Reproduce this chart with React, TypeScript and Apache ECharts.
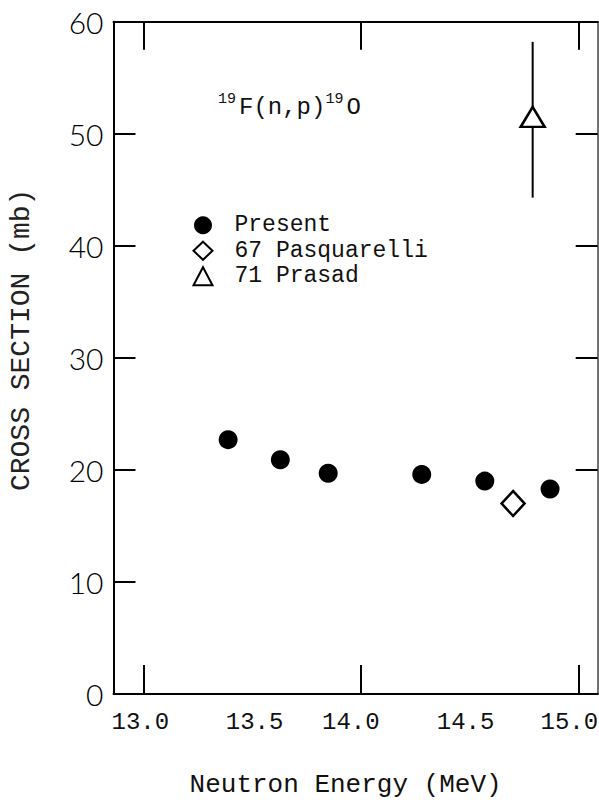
import React, { useEffect, useRef } from "react";
import * as echarts from "echarts";

// Present work
const presentEnergy = [13.39, 13.63, 13.85, 14.28, 14.57, 14.87];
const presentSection = [22.7, 20.9, 19.7, 19.6, 19.0, 18.3];
// 67 Pasquarelli
const pasqEnergy = [14.7];
const pasqSection = [17.0];
// 71 Prasad (with error bar)
const prasadEnergy = [14.79];
const prasadSection = [51.5];
const prasadLow = [44.3];
const prasadHigh = [58.2];

const xMin = 12.863;
const xMax = 15.089;
const xTickValues = [13, 14, 15];
const xLabelValues = [13, 13.5, 14, 14.5, 15];
const xLabelTexts = ["13.0", "13.5", "14.0", "14.5", "15.0"];
const rightTickValues = [20, 30, 40, 50];

const xLabelShift = [-3, 2.5, -10, -4, -9];

export default function App() {
  const ref = useRef<HTMLDivElement>(null);
  useEffect(() => {
    const chart = echarts.init(ref.current!, undefined, { renderer: "svg" });
    const rich: Record<string, any> = {};
    xLabelShift.forEach((d, i) => {
      rich["l" + i] = {
        fontFamily: "Liberation Mono",
        fontSize: 24,
        lineHeight: 28,
        color: "#111",
        padding: d < 0 ? [0, -2 * d, 0, 0] : [0, 0, 0, 2 * d],
      };
    });
    const mono = "Liberation Mono";
    chart.setOption({
      animation: false,
      backgroundColor: "#fff",
      grid: { left: 113.5, right: 1.3, top: 21.7, bottom: 111, containLabel: false, outerBoundsMode: "none" },
      legend: {
        orient: "vertical",
        left: 187.5,
        top: 208,
        itemWidth: 19,
        itemHeight: 18,
        itemGap: 1,
        data: ["Present", "67 Pasquarelli", "71 Prasad"],
        textStyle: {
          fontFamily: mono,
          fontSize: 23,
          lineHeight: 24.5,
          color: "#111",
          padding: [0, 0, 0, 17],
        },
      },
      graphic: [
        {
          type: "text",
          left: 218,
          top: 92,
          style: {
            text: "{s|19}{m|F(n,p)}{s|19}{m|O}",
            rich: {
              s: { fontFamily: mono, fontSize: 15, verticalAlign: "top", lineHeight: 18, fill: "#111", padding: [0, 3, 0, 0] },
              m: { fontFamily: mono, fontSize: 24, lineHeight: 30, verticalAlign: "middle", fill: "#111" },
            },
          },
        },
      ],
      xAxis: [
        {
          type: "value",
          position: "bottom",
          min: xMin,
          max: xMax,
          axisLine: { show: true, onZero: false, lineStyle: { color: "#000", width: 2 } },
          axisTick: { show: true, inside: true, length: 29, customValues: xTickValues, lineStyle: { color: "#000", width: 2 } },
          axisLabel: {
            show: true,
            customValues: xLabelValues,
            margin: 14,
            formatter: (v: number) => {
              const i = xLabelValues.findIndex((x) => Math.abs(x - v) < 1e-6);
              return i >= 0 ? `{l${i}|${xLabelTexts[i]}}` : "";
            },
            rich,
          },
          splitLine: { show: false },
          name: "Neutron Energy (MeV)",
          nameLocation: "middle",
          nameGap: 78,
          nameTextStyle: { fontFamily: mono, fontSize: 26, color: "#111", padding: [0, 20, 0, 0] },
        },
        {
          type: "value",
          position: "top",
          min: xMin,
          max: xMax,
          axisLine: { show: true, onZero: false, lineStyle: { color: "#000", width: 2 } },
          axisTick: { show: true, inside: true, length: 28, customValues: xTickValues, lineStyle: { color: "#000", width: 2 } },
          axisLabel: { show: false },
          splitLine: { show: false },
        },
      ],
      yAxis: [
        {
          type: "value",
          position: "left",
          min: 0,
          max: 60,
          interval: 10,
          axisLine: { show: true, onZero: false, lineStyle: { color: "#000", width: 2 } },
          axisTick: { show: true, inside: true, length: 22, lineStyle: { color: "#000", width: 2 } },
          axisLabel: { margin: 10, fontFamily: "Lato", fontWeight: 300, fontSize: 30, color: "#000" },
          splitLine: { show: false },
          name: "CROSS SECTION (mb)",
          nameLocation: "middle",
          nameRotate: 90,
          nameGap: 78,
          nameTextStyle: { fontFamily: mono, fontSize: 28, color: "#222", padding: [0, 0, 0, 36] },
        },
        {
          type: "value",
          position: "right",
          min: 0,
          max: 60,
          axisLine: { show: true, onZero: false, lineStyle: { color: "#444", width: 1.5 } },
          axisTick: { show: true, inside: true, length: 22, customValues: rightTickValues, lineStyle: { color: "#000", width: 2 } },
          axisLabel: { show: false },
          splitLine: { show: false },
        },
      ],
      series: [
        {
          name: "Present",
          type: "scatter",
          symbol: "circle",
          symbolSize: 19,
          itemStyle: { color: "#000", opacity: 1 },
          data: presentEnergy.map((e, i) => [e, presentSection[i]]),
        },
        {
          name: "67 Pasquarelli",
          type: "scatter",
          symbol: "diamond",
          symbolSize: [23, 25],
          itemStyle: { color: "#fff", borderColor: "#000", borderWidth: 2.5, opacity: 1 },
          data: pasqEnergy.map((e, i) => [e, pasqSection[i]]),
        },
        {
          name: "Prasad error",
          type: "custom",
          z: 1,
          renderItem: (params: any, api: any) => {
            const x = api.value(0);
            const lo = api.coord([x, api.value(1)]);
            const hi = api.coord([x, api.value(2)]);
            return {
              type: "line",
              shape: { x1: lo[0], y1: lo[1], x2: hi[0], y2: hi[1] },
              style: { stroke: "#000", lineWidth: 2 },
            };
          },
          data: prasadEnergy.map((e, i) => [e, prasadLow[i], prasadHigh[i]]),
        },
        {
          name: "71 Prasad",
          type: "scatter",
          symbol: "triangle",
          symbolSize: [24, 20],
          z: 3,
          itemStyle: { color: "#fff", borderColor: "#000", borderWidth: 2.5, opacity: 1 },
          data: prasadEnergy.map((e, i) => [e, prasadSection[i]]),
        },
      ],
    });
    return () => chart.dispose();
  }, []);
  return (
    <div
      ref={ref}
      style={{ position: "absolute", left: 0, top: 0, width: 599, height: 805 }}
    />
  );
}
